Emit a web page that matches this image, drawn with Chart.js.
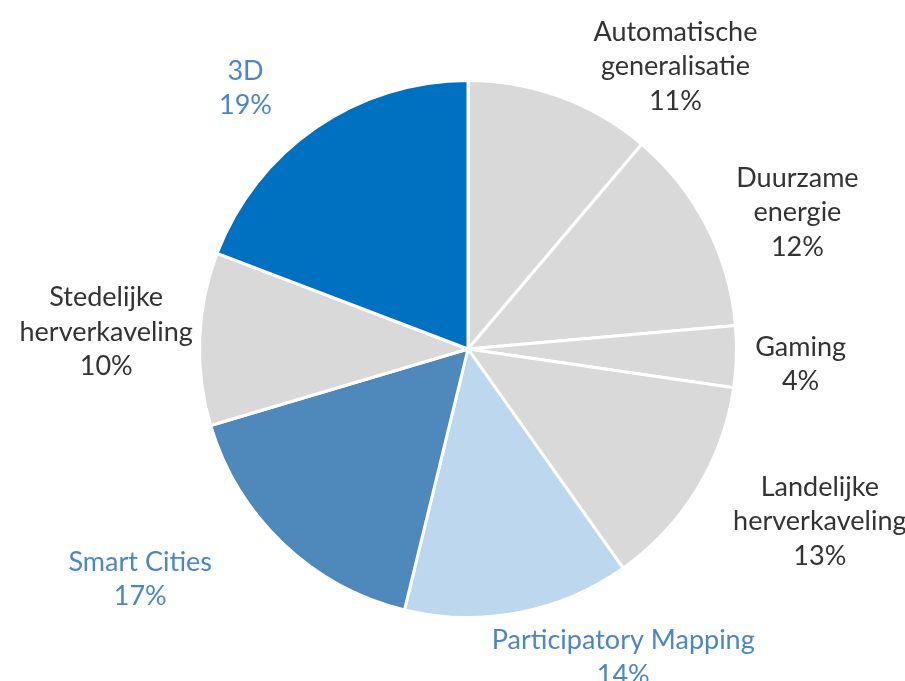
<!DOCTYPE html>
<html>
<head>
<meta charset="utf-8">
<script src="https://cdn.jsdelivr.net/npm/chart.js@4.4.0/dist/chart.umd.min.js"></script>
<style>
  html, body { margin: 0; padding: 0; background: #ffffff; }
  #wrap { width: 905px; height: 681px; }
</style>
</head>
<body>
<div id="wrap"><canvas id="c" width="905" height="681"></canvas></div>
<script>
// Categories (label lines) and values (percent shares)
const categories = [
  ['Automatische', 'generalisatie'],
  ['Duurzame', 'energie'],
  ['Gaming'],
  ['Landelijke', 'herverkaveling'],
  ['Participatory Mapping'],
  ['Smart Cities'],
  ['Stedelijke', 'herverkaveling'],
  ['3D']
];
const shares = [11.2, 12.4, 3.7, 12.9, 13.6, 16.6, 10.4, 19.2];

// Styling
const sliceColors = ['#d9d9d9', '#d9d9d9', '#d9d9d9', '#d9d9d9', '#bdd7ee', '#4f88bb', '#d9d9d9', '#0070c0'];
const labelColors = ['#333333', '#333333', '#333333', '#333333', '#4a86c8', '#4a86c8', '#333333', '#4a86c8'];
// Label placement: angle (deg clockwise from 12 o'clock) and distance as a multiple of the outer radius
const labelAngle = [36.3, 67.5, 92.6, 116.1, 153.3, 234.9, 272.7, 319.5];
const labelDist  = [1.305, 1.328, 1.240, 1.459, 1.287, 1.492, 1.349, 1.276];

const FONT = '27px Lato, "Liberation Sans", sans-serif';
const LINE_H = 34.5;

const outsideLabels = {
  id: 'outsideLabels',
  afterDatasetsDraw(chart) {
    const ctx = chart.ctx;
    const meta = chart.getDatasetMeta(0);
    const data = chart.data.datasets[0].data;
    const total = data.reduce((a, b) => a + b, 0);
    ctx.save();
    ctx.font = FONT;
    ctx.textAlign = 'center';
    ctx.textBaseline = 'middle';
    meta.data.forEach((arc, i) => {
      const p = arc.getProps(['x', 'y', 'outerRadius'], true);
      const a = labelAngle[i] * Math.PI / 180;
      const d = p.outerRadius * labelDist[i];
      const cx = p.x + Math.sin(a) * d;
      const cy = p.y - Math.cos(a) * d;
      const lines = chart.data.labels[i].concat([Math.round(data[i] / total * 100) + '%']);
      const top = cy - (lines.length - 1) * LINE_H / 2;
      ctx.fillStyle = labelColors[i];
      lines.forEach((t, k) => ctx.fillText(t, cx, top + k * LINE_H));
    });
    ctx.restore();
  }
};

new Chart(document.getElementById('c'), {
  type: 'pie',
  data: {
    labels: categories,
    datasets: [{
      data: shares,
      backgroundColor: sliceColors,
      borderColor: '#ffffff',
      borderWidth: 3
    }]
  },
  options: {
    responsive: false,
    animation: false,
    layout: { padding: { top: 79, bottom: 62, left: 31, right: 0 } },
    plugins: {
      legend: { display: false },
      tooltip: { enabled: false }
    }
  },
  plugins: [outsideLabels]
});
</script>
</body>
</html>
